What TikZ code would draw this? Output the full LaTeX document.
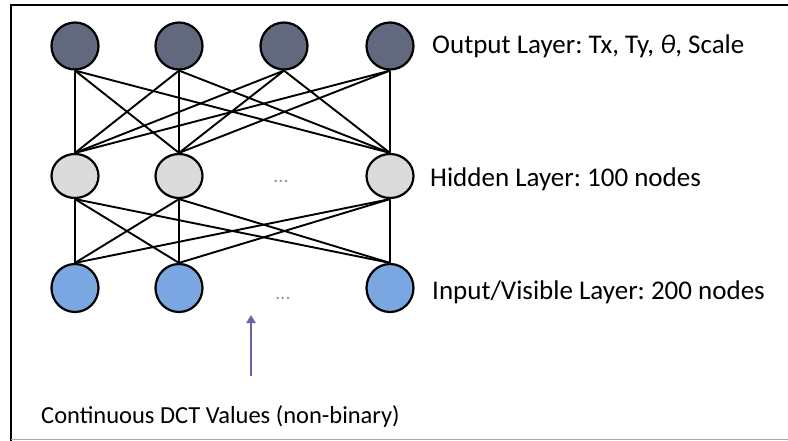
\documentclass[tikz,border=0pt]{standalone}
\usepackage{fontspec}
\setmainfont{Carlito}
\usetikzlibrary{arrows.meta,shapes.geometric}
\definecolor{outfill}{RGB}{98,104,125}
\definecolor{hidfill}{RGB}{218,218,218}
\definecolor{infill}{RGB}{122,166,226}
\definecolor{arrowc}{RGB}{104,100,172}
\frenchspacing
\begin{document}
\begin{tikzpicture}[x=1pt,y=-1pt,
  neuron/.style={ellipse,draw=black,line width=2.2pt,inner sep=0pt,minimum width=47pt,minimum height=46pt},
  conn/.style={line width=1.9pt,draw=black},
  lbl/.style={anchor=west,inner sep=0pt,font=\fontsize{27}{30}\selectfont,text=black},
  dots/.style={inner sep=0pt,font=\fontsize{20}{22}\selectfont,text=black!40}]
\useasboundingbox (0,0) rectangle (788,441);
\fill[white] (0,0) rectangle (788,441);
% frame
\draw[line width=2pt] (10,5) -- (788,5);
\draw[line width=2.5pt] (11,4) -- (11,441);
\draw[black!35,line width=1.5pt] (11,439.5) -- (788,439.5);
% output layer
\node[neuron,fill=outfill,minimum height=47pt] (o1) at (75,46) {};
\node[neuron,fill=outfill,minimum height=47pt] (o2) at (179,46) {};
\node[neuron,fill=outfill,minimum height=47pt] (o3) at (284,46) {};
\node[neuron,fill=outfill,minimum height=47pt] (o4) at (390,46) {};
% hidden layer
\node[neuron,fill=hidfill,minimum height=44pt] (h1) at (75,176) {};
\node[neuron,fill=hidfill,minimum height=44pt] (h2) at (179,176) {};
\node[neuron,fill=hidfill,minimum height=44pt] (h3) at (390,176) {};
% input layer
\node[neuron,fill=infill,minimum height=48pt] (i1) at (75,288) {};
\node[neuron,fill=infill,minimum height=48pt] (i2) at (179,288) {};
\node[neuron,fill=infill,minimum height=48pt] (i3) at (390,288) {};
% dots
\node[dots,anchor=base] (hd) at (281,183) {...};
\node[dots,anchor=base] (id) at (283,299) {...};
% connections output-hidden
\foreach \o in {o1,o2,o3,o4}
  \foreach \h in {h1,h2,h3}
    \draw[conn] (\o.south) -- (\h.north);
% connections hidden-input
\foreach \h in {h1,h2,h3}
  \foreach \i in {i1,i2,i3}
    \draw[conn] (\h.south) -- (\i.north);
% labels
\node[lbl] (lo) at (432,46) {Output Layer: Tx, Ty, \textit{θ}, Scale};
\node[lbl] (lh) at (430,179) {Hidden Layer: 100 nodes};
\node[lbl] (li) at (432,292) {Input/Visible Layer: 200 nodes};
\node[lbl,font=\fontsize{24.5}{28}\selectfont] (lc) at (41,417) {Continuous DCT Values (non-binary)};
% arrow
\coordinate (as) at (251,376);
\coordinate (at) at (251,315);
\draw[arrowc,line width=2.4pt,-{Triangle[length=8pt,width=9pt]}] (as) -- (at);
\end{tikzpicture}
\end{document}
